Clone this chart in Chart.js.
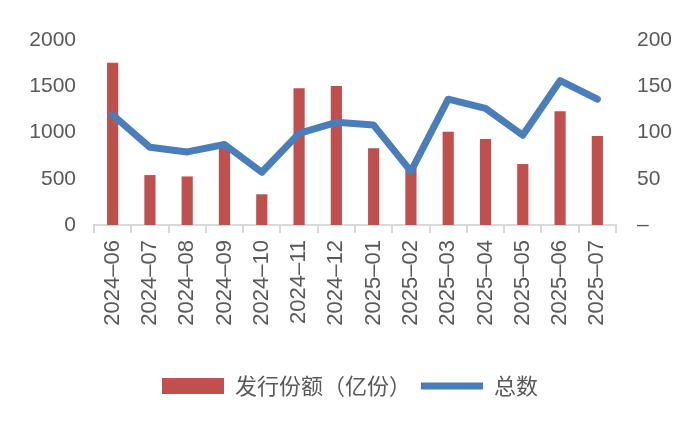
<!DOCTYPE html>
<html>
<head>
<meta charset="utf-8">
<script src="https://cdn.jsdelivr.net/npm/chart.js@4/dist/chart.umd.min.js"></script>
<style>
  html, body { margin: 0; padding: 0; background: #fff; }
  #wrap { width: 700px; height: 432px; }
</style>
</head>
<body>
<div id="wrap"><canvas id="diagram"></canvas></div>
<script>
// data
const months = ['2024-06', '2024-07', '2024-08', '2024-09', '2024-10', '2024-11', '2024-12',
                '2025-01', '2025-02', '2025-03', '2025-04', '2025-05', '2025-06', '2025-07'];
const issueShares = [1755, 540, 525, 840, 332, 1478, 1503, 830, 640, 1009, 930, 659, 1229, 962];
const totalCount = [119, 84, 79, 87, 57, 99, 111, 108, 58, 136, 126, 97, 156, 136];
const leftTicks = [0, 500, 1000, 1500, 2000];
const rightTicks = [0, 50, 100, 150, 200];

const textColor = '#595959';
const axisGray = '#D9D9D9';
const fontFamily = '"Liberation Sans", Arial, "Noto Sans CJK SC", sans-serif';

let diagram = document.getElementById('diagram');

let chart = new Chart(diagram, {
    type: 'bar',
    data: {
        labels: months,
        datasets: [
            {
                type: 'line',
                label: '总数',
                data: totalCount,
                yAxisID: 'y1',
                borderColor: '#4A7EBB',
                backgroundColor: '#4A7EBB',
                borderWidth: 7,
                borderJoinStyle: 'round',
                borderCapStyle: 'round',
                pointRadius: 0,
                pointStyle: 'line',
                tension: 0,
                order: 0
            },
            {
                label: '发行份额（亿份）',
                data: issueShares,
                yAxisID: 'y',
                backgroundColor: '#C0504D',
                pointStyle: 'rect',
                categoryPercentage: 1,
                barPercentage: 0.3,
                order: 1
            }
        ]
    },
    options: {
        responsive: true,
        maintainAspectRatio: false,
        animation: false,
        layout: { padding: { top: 40, bottom: 25, left: 0, right: 0 } },
        plugins: {
            tooltip: { enabled: false },
            legend: {
                position: 'bottom',
                reverse: true,
                labels: {
                    usePointStyle: true,
                    pointStyleWidth: 62,
                    boxHeight: 16,
                    padding: 10,
                    color: textColor,
                    font: { family: '"Noto Sans CJK SC", sans-serif', size: 22 }
                }
            }
        },
        scales: {
            x: {
                offset: true,
                grid: {
                    display: true,
                    offset: true,
                    drawOnChartArea: false,
                    drawTicks: true,
                    tickLength: 8,
                    color: axisGray,
                    lineWidth: 2
                },
                border: { display: true, color: axisGray, width: 2 },
                ticks: {
                    minRotation: 90,
                    maxRotation: 90,
                    autoSkip: false,
                    padding: 7,
                    color: textColor,
                    font: { family: fontFamily, size: 22 },
                    callback: function (value, index) {
                        return months[index].replace('-', '–');
                    }
                },
                afterFit: function (scale) { scale.height = 140; }
            },
            y: {
                position: 'left',
                min: leftTicks[0],
                max: leftTicks[leftTicks.length - 1],
                grid: { display: false, drawTicks: false },
                border: { display: false },
                afterBuildTicks: function (scale) {
                    scale.ticks = leftTicks.map(v => ({ value: v }));
                },
                ticks: {
                    padding: 18,
                    color: textColor,
                    font: { family: fontFamily, size: 21 },
                    callback: function (value) { return String(value); }
                },
                afterFit: function (scale) { scale.width = 94; }
            },
            y1: {
                position: 'right',
                min: rightTicks[0],
                max: rightTicks[rightTicks.length - 1],
                grid: { display: false, drawTicks: false },
                border: { display: false },
                afterBuildTicks: function (scale) {
                    scale.ticks = rightTicks.map(v => ({ value: v }));
                },
                ticks: {
                    padding: 21,
                    color: textColor,
                    font: { family: fontFamily, size: 21 },
                    callback: function (value) {
                        return value === 0 ? '–' : String(value);
                    }
                },
                afterFit: function (scale) { scale.width = 84; }
            }
        }
    }
});
</script>
</body>
</html>
